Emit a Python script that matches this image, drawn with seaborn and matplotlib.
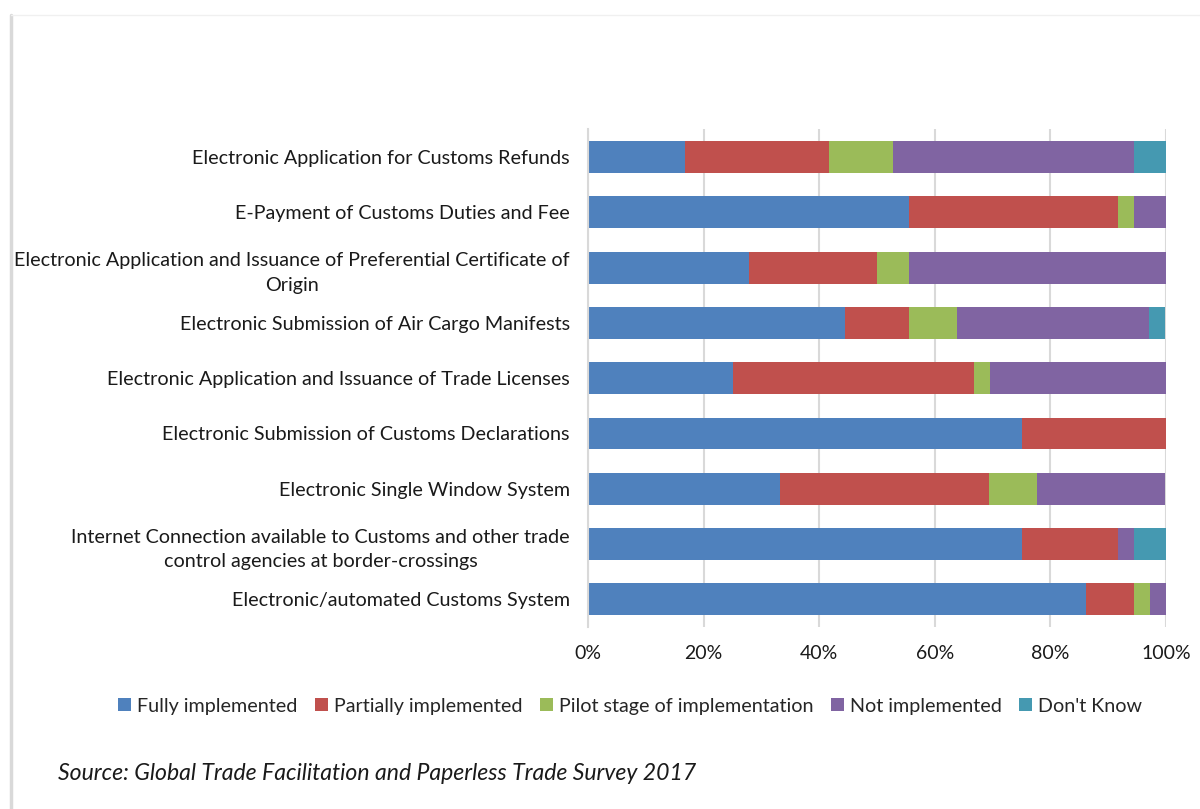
"""
Trade facilitation survey - stacked horizontal bar chart.
"""

import matplotlib
matplotlib.use("Agg")

import matplotlib.pyplot as plt
import numpy as np
import pandas as pd
import seaborn as sns
from matplotlib.lines import Line2D
from matplotlib.patches import Patch
from matplotlib.ticker import PercentFormatter

# Categories (top to bottom as shown)
kategoriler = [
    "Electronic Application for Customs Refunds",
    "E-Payment of Customs Duties and Fee",
    "Electronic Application and Issuance of Preferential Certificate of\nOrigin",
    "Electronic Submission of Air Cargo Manifests",
    "Electronic Application and Issuance of Trade Licenses",
    "Electronic Submission of Customs Declarations",
    "Electronic Single Window System",
    "Internet Connection available to Customs and other trade\ncontrol agencies at border-crossings",
    "Electronic/automated Customs System",
]

seriler = [
    "Fully implemented",
    "Partially implemented",
    "Pilot stage of implementation",
    "Not implemented",
    "Don't Know",
]

# Shares in percent
fully = [16.7, 55.6, 27.8, 44.4, 25.0, 75.0, 33.3, 75.0, 86.1]
partially = [25.0, 36.1, 22.2, 11.1, 41.7, 25.0, 36.1, 16.7, 8.3]
pilot = [11.1, 2.8, 5.6, 8.3, 2.8, 0.0, 8.3, 0.0, 2.8]
not_impl = [41.7, 5.6, 44.4, 33.3, 30.5, 0.0, 22.2, 2.8, 2.8]
dont_know = [5.5, 0.0, 0.0, 2.8, 0.0, 0.0, 0.0, 5.5, 0.0]

renkler = ["#4F81BD", "#C0504D", "#9BBB59", "#8064A2", "#4599B1"]

RENK_METIN = "#1A1A1A"
RENK_IZGARA = "#D9D9D9"

sns.set_theme(style="white")
plt.rcParams["font.family"] = ["Lato", "DejaVu Sans"]

df = pd.DataFrame({
    "kategori": kategoriler,
    seriler[0]: fully,
    seriler[1]: partially,
    seriler[2]: pilot,
    seriler[3]: not_impl,
    seriler[4]: dont_know,
})
kumulatif = df[seriler].cumsum(axis=1)

fig = plt.figure(figsize=(12, 8.09), dpi=100)
ax = fig.add_axes([0.49, 0.225, 0.4817, 0.615])

# Draw cumulative layers from back (largest) to front
for seri, renk in reversed(list(zip(seriler, renkler))):
    sns.barplot(
        x=kumulatif[seri],
        y=df["kategori"],
        orient="h",
        color=renk,
        width=0.575,
        saturation=1,
        linewidth=0,
        edgecolor="none",
        ax=ax,
        zorder=2,
    )

ax.set_xlim(0, 100)
ax.set_ylim(8.5, -0.5)
ax.set_xticks(np.arange(0, 101, 20))
ax.xaxis.set_major_formatter(PercentFormatter(decimals=0))
ax.grid(axis="x", color=RENK_IZGARA, linewidth=1.5, zorder=0)
ax.set_axisbelow(True)
for taraf in ["top", "right", "bottom"]:
    ax.spines[taraf].set_visible(False)
ax.spines["left"].set_color(RENK_IZGARA)
ax.spines["left"].set_linewidth(1.5)
ax.set_xlabel("")
ax.set_ylabel("")
ax.tick_params(axis="x", length=0, pad=13, labelsize=14, colors=RENK_METIN)
ax.tick_params(axis="y", length=0, pad=13, labelsize=14.2, colors=RENK_METIN)
for etiket in ax.get_yticklabels():
    etiket.set_multialignment("center")
    etiket.set_linespacing(1.55)

tutamaclar = [Patch(facecolor=r, edgecolor="none", label=s) for s, r in zip(seriler, renkler)]
fig.legend(
    handles=tutamaclar,
    loc="center",
    bbox_to_anchor=(0.525, 0.127),
    ncol=5,
    frameon=False,
    fontsize=14.2,
    handlelength=0.65,
    handleheight=0.65,
    handletextpad=0.3,
    columnspacing=0.9,
)

fig.text(
    0.048, 0.044,
    "Source: Global Trade Facilitation and Paperless Trade Survey 2017",
    fontsize=16.6,
    style="italic",
    color=RENK_METIN,
    va="center",
)

# Faint frame at left and top
fig.add_artist(Line2D([0.009, 0.009], [0, 0.982], color="#D9D9D9", linewidth=2.5))
fig.add_artist(Line2D([0.009, 1.0], [0.982, 0.982], color="#F0F0F0", linewidth=1))

fig.savefig("out.png", dpi=100, facecolor="white")
plt.close(fig)
